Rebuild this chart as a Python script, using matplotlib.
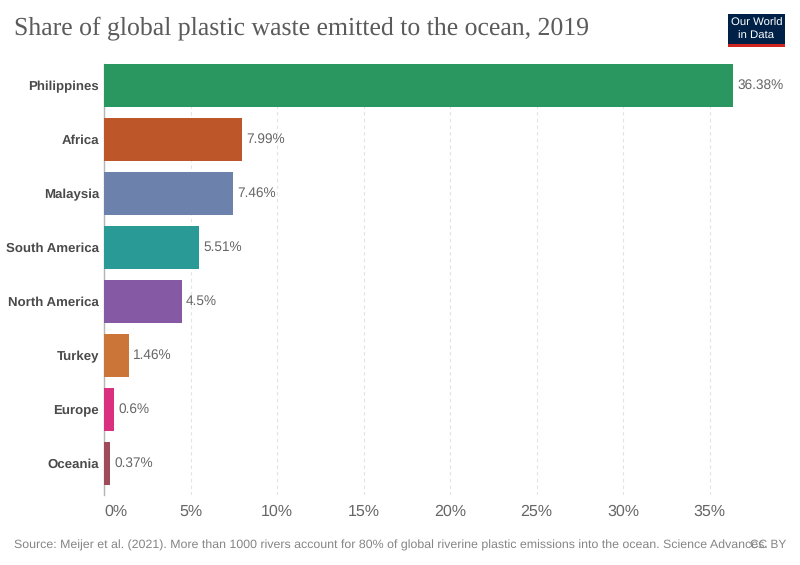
import matplotlib
matplotlib.use("Agg")
from matplotlib import pyplot as plt
from matplotlib.patches import Rectangle

# data
regions = ["Philippines", "Africa", "Malaysia", "South America", "North America", "Turkey", "Europe", "Oceania"]
shares = [36.38, 7.99, 7.46, 5.51, 4.5, 1.46, 0.6, 0.37]
bar_colors = ["#2a9760", "#bd5629", "#6c82ad", "#2a9a96", "#8659a5", "#cb7539", "#d9317f", "#a04b5a"]
x_ticks = [0, 5, 10, 15, 20, 25, 30, 35]

title = "Share of global plastic waste emitted to the ocean, 2019"
source = ("Source: Meijer et al. (2021). More than 1000 rivers account for 80% of global "
          "riverine plastic emissions into the ocean. Science Advances.")

W, H = 800, 565
sans = "Liberation Sans"
serif = "Liberation Serif"
plt.rcParams["text.hinting"] = "none"

fig = plt.figure(figsize=(W / 100, H / 100), dpi=100)
# axes box in pixels: x 104..744, y 64..495
ax = fig.add_axes([104 / W, 1 - 495 / H, 640 / W, 431 / H])

ax.barh(range(len(regions)), shares, height=0.796, color=bar_colors, zorder=3)
for i, val in enumerate(shares):
    ax.annotate(f"{val:g}%", (val, i), xytext=(3, 0), textcoords="offset points",
                va="center", ha="left", fontsize=9.8, family=sans, color="#666666")

ax.set_xlim(0, 640 / 17.3)
ax.set_ylim(7.583, -0.398)
ax.set_yticks(range(len(regions)))
ax.set_yticklabels(regions, family=sans, fontweight="bold", fontsize=9.5, color="#4a4a4a")
for lab in ax.get_yticklabels():
    lab.set_y(lab.get_position()[1])
ax.set_xticks(x_ticks)
ax.set_xticklabels([f"{t}%" for t in x_ticks], family=sans, fontsize=11.5, color="#666666")
ax.get_xticklabels()[0].set_ha("left")
ax.tick_params(axis="y", length=0, pad=3.5)
ax.tick_params(axis="x", length=0, pad=6.5)
ax.grid(axis="x", color="#e2e2e2", linestyle=(0, (3, 3)), linewidth=0.8, zorder=1)
ax.set_axisbelow(True)
for side in ["top", "right", "bottom"]:
    ax.spines[side].set_visible(False)
ax.spines["left"].set_color("#b5b5b5")
ax.spines["left"].set_linewidth(1)
ax.spines["left"].set_zorder(2)

fig.text(14 / W, 1 - 28 / H, title, family=serif, fontsize=18.5, color="#5b5b5b", va="center", ha="left")
fig.text(14 / W, 1 - 545 / H, source, family=sans, fontsize=8.9, color="#858585", va="center", ha="left")
fig.text(786 / W, 1 - 545 / H, "CC BY", family=sans, fontsize=8.6, color="#858585", va="center", ha="right")

# logo
fig.add_artist(Rectangle((728 / W, 1 - 47 / H), 57 / W, 33 / H, transform=fig.transFigure, color="#002147", lw=0))
fig.add_artist(Rectangle((728 / W, 1 - 47 / H), 57 / W, 3 / H, transform=fig.transFigure, color="#ce261e", lw=0))
fig.text(756.5 / W, 1 - 29.5 / H, "Our World\nin Data", family=sans, fontsize=8.2, color="white",
         va="center", ha="center", linespacing=1.3)

fig.savefig("out.png", dpi=100)
